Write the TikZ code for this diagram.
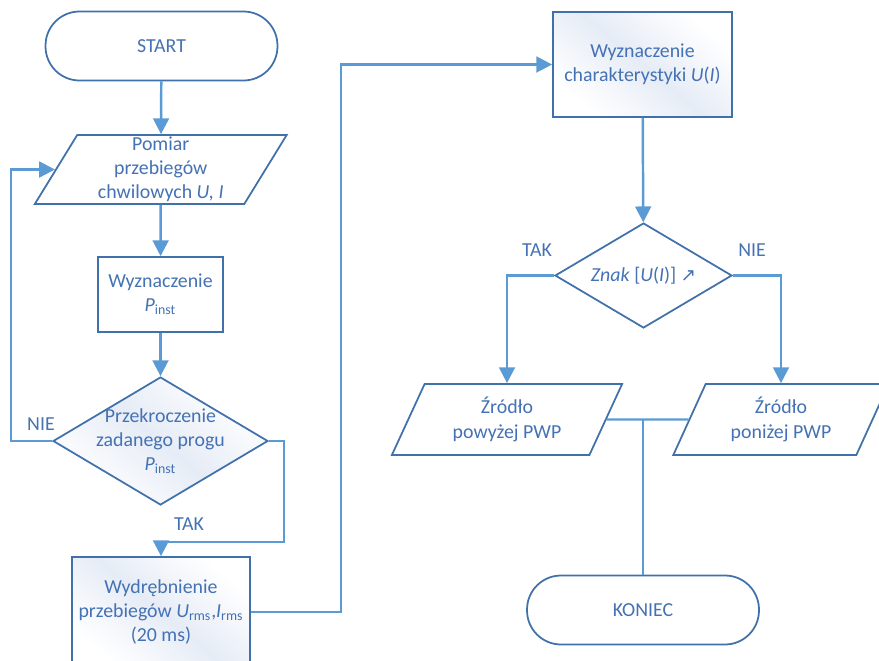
\documentclass[tikz,border=0pt]{standalone}
\usepackage{fontspec}
\setmainfont{Carlito}
\newfontfamily\symfont{DejaVu Sans}
\usetikzlibrary{arrows.meta,shapes.geometric,calc}
\definecolor{linecol}{RGB}{91,155,213}
\definecolor{edgecol}{RGB}{65,113,170}
\definecolor{txtcol}{RGB}{68,114,180}
\definecolor{sheencol}{RGB}{230,236,246}
\tikzset{
  % flow line with filled arrow head
  flow/.style={draw=linecol, line width=1.4pt, -{Triangle[length=9pt,width=9pt]}},
  % joining line, no head
  plainline/.style={draw=linecol, line width=1.4pt},
  % common look of all blocks
  block/.style={draw=edgecol, line width=1pt, fill=white, text=txtcol, align=center,
                inner sep=0pt, font=\fontsize{11.3}{13.8}\selectfont},
  % start / end
  termbox/.style={block, rectangle, rounded corners=0.68cm, minimum width=4.64cm, minimum height=1.38cm},
  % process box
  procbox/.style={block, rectangle},
  % input / output
  iobox/.style={block, trapezium, trapezium left angle=64, trapezium right angle=116,
                trapezium stretches=true},
  % decision
  decbox/.style={block, diamond, aspect=1.68, inner sep=-3.5pt},
  % faint diagonal sheen on some blocks
  sheen/.style={top color=white, bottom color=white, middle color=sheencol, shading angle=-40},
  % branch labels
  branch/.style={text=txtcol, font=\fontsize{11.3}{13}\selectfont},
}

\begin{document}
\begin{tikzpicture}[x=0.02cm, y=-0.02cm]
  \useasboundingbox (0,0) rectangle (879,660);

  % left column
  \node[termbox] (start) at (161.5,46) {START};
  \node[iobox, minimum width=5.04cm, minimum height=1.38cm] (pomiar) at (160.75,169.5)
    {Pomiar\\przebiegów\\chwilowych \textit{U, I}};
  \node[procbox, minimum width=2.5cm, minimum height=1.5cm] (wyzn) at (160.5,294.5)
    {Wyznaczenie\\\textit{P}\textsubscript{inst}};
  \node[decbox, sheen, minimum width=4.3cm, minimum height=2.56cm] (prog) at (160.5,441)
    {Przekroczenie\\zadanego progu\\\textit{P}\textsubscript{inst}};
  \node[procbox, sheen, minimum width=3.56cm, minimum height=2.2cm] (wydr) at (161,612)
    {Wydrębnienie\\przebiegów \textit{U}\textsubscript{rms},\textit{I}\textsubscript{rms}\\(20 ms)};

  \draw[flow] (start) -- (pomiar);
  \draw[flow] (pomiar) -- (wyzn);
  \draw[flow] (wyzn) -- (prog);
  \draw[flow] (prog.west) -- ++(-41,0) |- (pomiar.west);
  \node[branch] (nie1) at (41,424) {NIE};
  \coordinate (tj) at ($(wydr.north)+(0,-14)$);
  \draw[flow] (prog.east) -- ++(15,0) |- (tj) -- (wydr.north);
  \node[branch] (tak1) at (189,524) {TAK};

  % right column
  \node[procbox, sheen, minimum width=3.58cm, minimum height=2.1cm] (charakt) at (642.5,64.5)
    {Wyznaczenie\\charakterystyki \textit{U}(\textit{I})};
  \draw[flow] (wydr.east) -- ++(90,0) |- (charakt.west);
  \node[decbox, aspect=1.69, minimum width=3.54cm, minimum height=2.1cm] (znak) at (643.5,275.5)
    {\textit{Znak} [\textit{U}(\textit{I})] {\symfont\fontsize{10.5}{11}\selectfont ↗}};
  \draw[flow] (charakt) -- (znak);

  \node[iobox, minimum width=4.64cm, minimum height=1.42cm] (powyzej) at (507,419.5)
    {Źródło\\powyżej PWP};
  \node[iobox, minimum width=4.32cm, minimum height=1.42cm] (ponizej) at (781,419.5)
    {Źródło\\poniżej PWP};
  \draw[flow] (znak.west) -| (powyzej.north);
  \draw[flow] (znak.east) -| (ponizej.north);
  \node[branch] (tak2) at (537,250) {TAK};
  \node[branch] (nie2) at (752,250) {NIE};

  \node[termbox] (koniec) at (643,610) {KONIEC};
  \draw[plainline] (powyzej.east) -- (ponizej.west);
  \draw[plainline] (koniec.north) -- (koniec.north |- powyzej.east);
\end{tikzpicture}
\end{document}
